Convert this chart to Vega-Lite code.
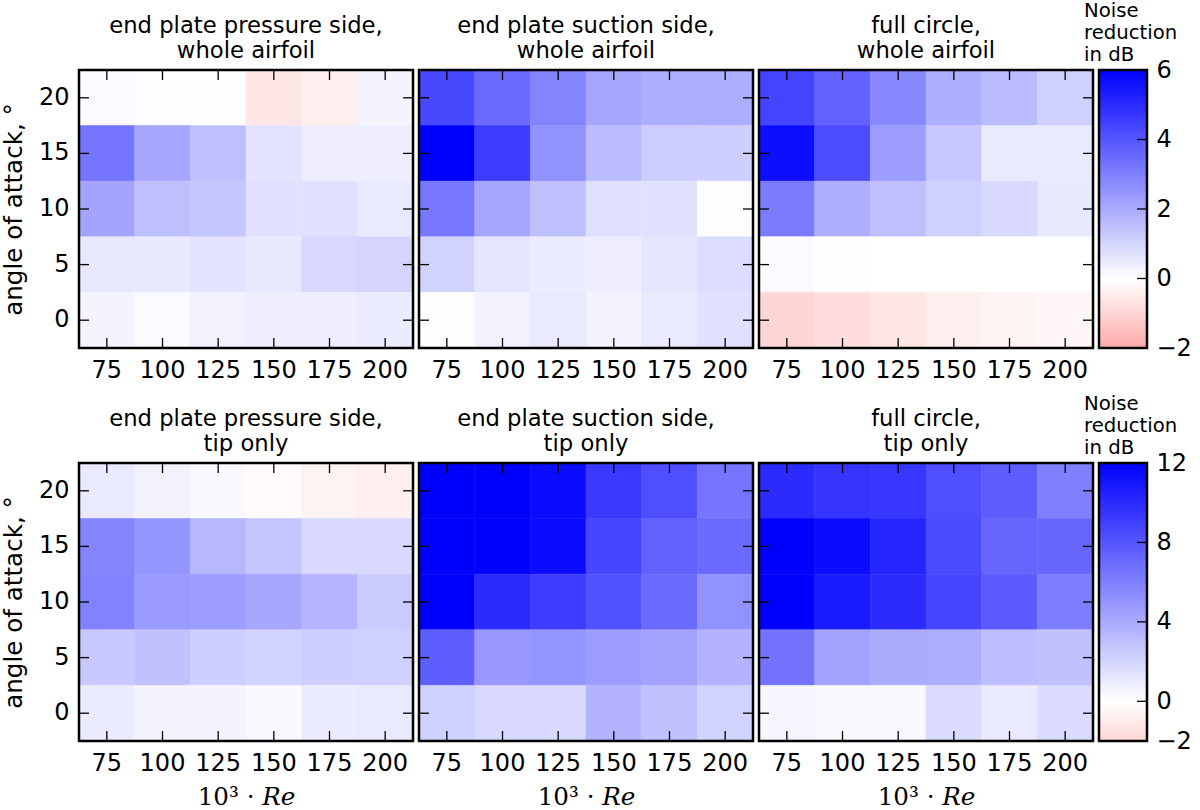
{
  "$schema": "https://vega.github.io/schema/vega-lite/v6.json",
  "background": "white",
  "padding": {"left": 1, "top": 1, "right": 0, "bottom": 0},
  "columns": 4,
  "bounds": "flush",
  "align": "each",
  "spacing": {"row": 115, "column": 6},
  "resolve": {"scale": {"fill": "independent", "stroke": "independent"}},
  "config": {
    "font": "DejaVu Sans",
    "view": {"stroke": null},
    "title": {"font": "DejaVu Sans", "fontSize": 22.7, "fontWeight": "normal", "lineHeight": 25, "offset": 6, "color": "#000"},
    "axis": {
      "grid": false,
      "domain": false,
      "ticks": false,
      "labelFont": "DejaVu Sans",
      "labelFontSize": 24,
      "labelColor": "#000",
      "labelPadding": 10,
      "labelAngle": 0,
      "labelOverlap": false,
      "labelFlush": false,
      "titleFont": "DejaVu Sans",
      "titleFontSize": 24.6,
      "titleFontWeight": "normal",
      "titleColor": "#000"
    }
  },
  "datasets": {
    "frame": [{"id": 1}],
    "xticks": [
      {"re":75,"edge":-2.5},{"re":100,"edge":-2.5},{"re":125,"edge":-2.5},{"re":150,"edge":-2.5},{"re":175,"edge":-2.5},{"re":200,"edge":-2.5},
      {"re":75,"edge":22.5},{"re":100,"edge":22.5},{"re":125,"edge":22.5},{"re":150,"edge":22.5},{"re":175,"edge":22.5},{"re":200,"edge":22.5}
    ],
    "yticks": [
      {"aoa":20,"edge":62.5},{"aoa":15,"edge":62.5},{"aoa":10,"edge":62.5},{"aoa":5,"edge":62.5},{"aoa":0,"edge":62.5},
      {"aoa":20,"edge":212.5},{"aoa":15,"edge":212.5},{"aoa":10,"edge":212.5},{"aoa":5,"edge":212.5},{"aoa":0,"edge":212.5}
    ],
    "cells": [
      {"panel":"a","aoa":20,"re":75,"v":0.1},{"panel":"a","aoa":20,"re":100,"v":0.05},{"panel":"a","aoa":20,"re":125,"v":0.05},{"panel":"a","aoa":20,"re":150,"v":-0.6},{"panel":"a","aoa":20,"re":175,"v":-0.35},{"panel":"a","aoa":20,"re":200,"v":0.25},
      {"panel":"a","aoa":15,"re":75,"v":3.25},{"panel":"a","aoa":15,"re":100,"v":2.1},{"panel":"a","aoa":15,"re":125,"v":1.5},{"panel":"a","aoa":15,"re":150,"v":0.65},{"panel":"a","aoa":15,"re":175,"v":0.4},{"panel":"a","aoa":15,"re":200,"v":0.4},
      {"panel":"a","aoa":10,"re":75,"v":2.15},{"panel":"a","aoa":10,"re":100,"v":1.5},{"panel":"a","aoa":10,"re":125,"v":1.35},{"panel":"a","aoa":10,"re":150,"v":0.7},{"panel":"a","aoa":10,"re":175,"v":0.7},{"panel":"a","aoa":10,"re":200,"v":0.5},
      {"panel":"a","aoa":5,"re":75,"v":0.55},{"panel":"a","aoa":5,"re":100,"v":0.55},{"panel":"a","aoa":5,"re":125,"v":0.65},{"panel":"a","aoa":5,"re":150,"v":0.55},{"panel":"a","aoa":5,"re":175,"v":0.95},{"panel":"a","aoa":5,"re":200,"v":1.0},
      {"panel":"a","aoa":0,"re":75,"v":0.25},{"panel":"a","aoa":0,"re":100,"v":0.12},{"panel":"a","aoa":0,"re":125,"v":0.3},{"panel":"a","aoa":0,"re":150,"v":0.4},{"panel":"a","aoa":0,"re":175,"v":0.4},{"panel":"a","aoa":0,"re":200,"v":0.45},

      {"panel":"b","aoa":20,"re":75,"v":4.3},{"panel":"b","aoa":20,"re":100,"v":3.5},{"panel":"b","aoa":20,"re":125,"v":2.9},{"panel":"b","aoa":20,"re":150,"v":2.1},{"panel":"b","aoa":20,"re":175,"v":1.9},{"panel":"b","aoa":20,"re":200,"v":1.9},
      {"panel":"b","aoa":15,"re":75,"v":6},{"panel":"b","aoa":15,"re":100,"v":4.6},{"panel":"b","aoa":15,"re":125,"v":2.6},{"panel":"b","aoa":15,"re":150,"v":1.6},{"panel":"b","aoa":15,"re":175,"v":1.2},{"panel":"b","aoa":15,"re":200,"v":1.15},
      {"panel":"b","aoa":10,"re":75,"v":3.2},{"panel":"b","aoa":10,"re":100,"v":2.1},{"panel":"b","aoa":10,"re":125,"v":1.5},{"panel":"b","aoa":10,"re":150,"v":0.75},{"panel":"b","aoa":10,"re":175,"v":0.7},{"panel":"b","aoa":10,"re":200,"v":0.05},
      {"panel":"b","aoa":5,"re":75,"v":1.05},{"panel":"b","aoa":5,"re":100,"v":0.6},{"panel":"b","aoa":5,"re":125,"v":0.45},{"panel":"b","aoa":5,"re":150,"v":0.4},{"panel":"b","aoa":5,"re":175,"v":0.6},{"panel":"b","aoa":5,"re":200,"v":0.8},
      {"panel":"b","aoa":0,"re":75,"v":0.05},{"panel":"b","aoa":0,"re":100,"v":0.3},{"panel":"b","aoa":0,"re":125,"v":0.5},{"panel":"b","aoa":0,"re":150,"v":0.25},{"panel":"b","aoa":0,"re":175,"v":0.5},{"panel":"b","aoa":0,"re":200,"v":0.7},

      {"panel":"c","aoa":20,"re":75,"v":4.4},{"panel":"c","aoa":20,"re":100,"v":3.7},{"panel":"c","aoa":20,"re":125,"v":2.8},{"panel":"c","aoa":20,"re":150,"v":1.9},{"panel":"c","aoa":20,"re":175,"v":1.6},{"panel":"c","aoa":20,"re":200,"v":1.1},
      {"panel":"c","aoa":15,"re":75,"v":5.7},{"panel":"c","aoa":15,"re":100,"v":4.2},{"panel":"c","aoa":15,"re":125,"v":2.3},{"panel":"c","aoa":15,"re":150,"v":1.3},{"panel":"c","aoa":15,"re":175,"v":0.5},{"panel":"c","aoa":15,"re":200,"v":0.5},
      {"panel":"c","aoa":10,"re":75,"v":3.1},{"panel":"c","aoa":10,"re":100,"v":1.9},{"panel":"c","aoa":10,"re":125,"v":1.5},{"panel":"c","aoa":10,"re":150,"v":1.1},{"panel":"c","aoa":10,"re":175,"v":0.9},{"panel":"c","aoa":10,"re":200,"v":0.55},
      {"panel":"c","aoa":5,"re":75,"v":0.1},{"panel":"c","aoa":5,"re":100,"v":0.02},{"panel":"c","aoa":5,"re":125,"v":0},{"panel":"c","aoa":5,"re":150,"v":0},{"panel":"c","aoa":5,"re":175,"v":0},{"panel":"c","aoa":5,"re":200,"v":0},
      {"panel":"c","aoa":0,"re":75,"v":-1.0},{"panel":"c","aoa":0,"re":100,"v":-0.8},{"panel":"c","aoa":0,"re":125,"v":-0.6},{"panel":"c","aoa":0,"re":150,"v":-0.35},{"panel":"c","aoa":0,"re":175,"v":-0.25},{"panel":"c","aoa":0,"re":200,"v":-0.2},

      {"panel":"d","aoa":20,"re":75,"v":1.0},{"panel":"d","aoa":20,"re":100,"v":0.6},{"panel":"d","aoa":20,"re":125,"v":0.3},{"panel":"d","aoa":20,"re":150,"v":-0.2},{"panel":"d","aoa":20,"re":175,"v":-0.6},{"panel":"d","aoa":20,"re":200,"v":-0.7},
      {"panel":"d","aoa":15,"re":75,"v":5.8},{"panel":"d","aoa":15,"re":100,"v":5},{"panel":"d","aoa":15,"re":125,"v":3.4},{"panel":"d","aoa":15,"re":150,"v":2.7},{"panel":"d","aoa":15,"re":175,"v":1.8},{"panel":"d","aoa":15,"re":200,"v":1.8},
      {"panel":"d","aoa":10,"re":75,"v":5.9},{"panel":"d","aoa":10,"re":100,"v":4.7},{"panel":"d","aoa":10,"re":125,"v":4.6},{"panel":"d","aoa":10,"re":150,"v":4.2},{"panel":"d","aoa":10,"re":175,"v":3.5},{"panel":"d","aoa":10,"re":200,"v":2.5},
      {"panel":"d","aoa":5,"re":75,"v":2.6},{"panel":"d","aoa":5,"re":100,"v":2.9},{"panel":"d","aoa":5,"re":125,"v":2.3},{"panel":"d","aoa":5,"re":150,"v":2.1},{"panel":"d","aoa":5,"re":175,"v":2.3},{"panel":"d","aoa":5,"re":200,"v":2.2},
      {"panel":"d","aoa":0,"re":75,"v":0.9},{"panel":"d","aoa":0,"re":100,"v":0.5},{"panel":"d","aoa":0,"re":125,"v":0.5},{"panel":"d","aoa":0,"re":150,"v":0.3},{"panel":"d","aoa":0,"re":175,"v":0.9},{"panel":"d","aoa":0,"re":200,"v":1.0},

      {"panel":"e","aoa":20,"re":75,"v":12},{"panel":"e","aoa":20,"re":100,"v":12},{"panel":"e","aoa":20,"re":125,"v":11.5},{"panel":"e","aoa":20,"re":150,"v":9.3},{"panel":"e","aoa":20,"re":175,"v":8.3},{"panel":"e","aoa":20,"re":200,"v":6.5},
      {"panel":"e","aoa":15,"re":75,"v":12},{"panel":"e","aoa":15,"re":100,"v":12},{"panel":"e","aoa":15,"re":125,"v":11.5},{"panel":"e","aoa":15,"re":150,"v":8.7},{"panel":"e","aoa":15,"re":175,"v":7.4},{"panel":"e","aoa":15,"re":200,"v":7.0},
      {"panel":"e","aoa":10,"re":75,"v":12},{"panel":"e","aoa":10,"re":100,"v":10},{"panel":"e","aoa":10,"re":125,"v":9.2},{"panel":"e","aoa":10,"re":150,"v":8.2},{"panel":"e","aoa":10,"re":175,"v":7},{"panel":"e","aoa":10,"re":200,"v":5.2},
      {"panel":"e","aoa":5,"re":75,"v":7.6},{"panel":"e","aoa":5,"re":100,"v":4.9},{"panel":"e","aoa":5,"re":125,"v":5},{"panel":"e","aoa":5,"re":150,"v":4.6},{"panel":"e","aoa":5,"re":175,"v":4.3},{"panel":"e","aoa":5,"re":200,"v":3.6},
      {"panel":"e","aoa":0,"re":75,"v":2.2},{"panel":"e","aoa":0,"re":100,"v":1.8},{"panel":"e","aoa":0,"re":125,"v":1.8},{"panel":"e","aoa":0,"re":150,"v":3.6},{"panel":"e","aoa":0,"re":175,"v":2.9},{"panel":"e","aoa":0,"re":200,"v":2.1},

      {"panel":"f","aoa":20,"re":75,"v":10},{"panel":"f","aoa":20,"re":100,"v":9.5},{"panel":"f","aoa":20,"re":125,"v":9.4},{"panel":"f","aoa":20,"re":150,"v":8.3},{"panel":"f","aoa":20,"re":175,"v":7.6},{"panel":"f","aoa":20,"re":200,"v":6},
      {"panel":"f","aoa":15,"re":75,"v":12},{"panel":"f","aoa":15,"re":100,"v":11.5},{"panel":"f","aoa":15,"re":125,"v":10.3},{"panel":"f","aoa":15,"re":150,"v":8.5},{"panel":"f","aoa":15,"re":175,"v":7.2},{"panel":"f","aoa":15,"re":200,"v":7.2},
      {"panel":"f","aoa":10,"re":75,"v":12},{"panel":"f","aoa":10,"re":100,"v":10.8},{"panel":"f","aoa":10,"re":125,"v":10},{"panel":"f","aoa":10,"re":150,"v":8.7},{"panel":"f","aoa":10,"re":175,"v":7.7},{"panel":"f","aoa":10,"re":200,"v":6.1},
      {"panel":"f","aoa":5,"re":75,"v":6.6},{"panel":"f","aoa":5,"re":100,"v":4.4},{"panel":"f","aoa":5,"re":125,"v":3.9},{"panel":"f","aoa":5,"re":150,"v":3.8},{"panel":"f","aoa":5,"re":175,"v":3.1},{"panel":"f","aoa":5,"re":200,"v":2.9},
      {"panel":"f","aoa":0,"re":75,"v":0.4},{"panel":"f","aoa":0,"re":100,"v":0.3},{"panel":"f","aoa":0,"re":125,"v":0.3},{"panel":"f","aoa":0,"re":150,"v":1.7},{"panel":"f","aoa":0,"re":175,"v":1},{"panel":"f","aoa":0,"re":200,"v":1.7}
    ],
    "bar6": [{"lo": -2, "hi": 6}],
    "bar12": [{"lo": -2, "hi": 12}],
    "bar6ticks": [{"level": 0, "edge": 1}, {"level": 2, "edge": 1}, {"level": 4, "edge": 1}],
    "bar12ticks": [{"level": 0, "edge": 1}, {"level": 4, "edge": 1}, {"level": 8, "edge": 1}]
  },
  "concat": [
    {
      "width": 334, "height": 278,
      "title": {"text": ["end plate pressure side, ", "whole airfoil"]},
      "resolve": {"scale": {"x": "independent", "y": "independent"}, "axis": {"x": "independent", "y": "independent"}},
      "layer": [
        {"data": {"name": "cells"}, "transform": [{"filter": "datum.panel == 'a'"}], "mark": {"type": "rect", "strokeWidth": 0.6}, "encoding": {
          "fill": {"field": "v", "type": "quantitative", "legend": null, "scale": {"domain": [-6, 0, 6], "range": ["#ff0000", "#ffffff", "#0000ff"], "interpolate": "rgb"}},
          "stroke": {"field": "v", "type": "quantitative", "legend": null, "scale": {"domain": [-6, 0, 6], "range": ["#ff0000", "#ffffff", "#0000ff"], "interpolate": "rgb"}},
          "x": {"field": "re", "type": "ordinal", "axis": {"title": null}},
          "y": {"field": "aoa", "type": "ordinal", "sort": "descending", "axis": {"title": "angle of attack, °", "titlePadding": 12}}
        }},
        {"data": {"name": "xticks"}, "mark": {"type": "tick", "orient": "vertical", "size": 20, "thickness": 1.3, "color": "#000", "opacity": 1, "clip": true}, "encoding": {
          "x": {"field": "re", "type": "ordinal", "scale": {"type": "band", "padding": 0}, "axis": null},
          "y": {"field": "edge", "type": "quantitative", "scale": {"domain": [-2.5, 22.5], "nice": false, "zero": false}, "axis": null}
        }},
        {"data": {"name": "yticks"}, "mark": {"type": "tick", "orient": "horizontal", "size": 20, "thickness": 1.3, "color": "#000", "opacity": 1, "clip": true}, "encoding": {
          "x": {"field": "edge", "type": "quantitative", "scale": {"domain": [62.5, 212.5], "nice": false, "zero": false}, "axis": null},
          "y": {"field": "aoa", "type": "ordinal", "sort": "descending", "scale": {"type": "band", "padding": 0}, "axis": null}
        }},
        {"data": {"name": "frame"}, "mark": {"type": "rect", "fillOpacity": 0, "stroke": "#000", "strokeWidth": 2.5}, "encoding": {}}
      ]
    },
    {
      "width": 334, "height": 278,
      "title": {"text": ["end plate suction side, ", "whole airfoil"]},
      "resolve": {"scale": {"x": "independent", "y": "independent"}, "axis": {"x": "independent", "y": "independent"}},
      "layer": [
        {"data": {"name": "cells"}, "transform": [{"filter": "datum.panel == 'b'"}], "mark": {"type": "rect", "strokeWidth": 0.6}, "encoding": {
          "fill": {"field": "v", "type": "quantitative", "legend": null, "scale": {"domain": [-6, 0, 6], "range": ["#ff0000", "#ffffff", "#0000ff"], "interpolate": "rgb"}},
          "stroke": {"field": "v", "type": "quantitative", "legend": null, "scale": {"domain": [-6, 0, 6], "range": ["#ff0000", "#ffffff", "#0000ff"], "interpolate": "rgb"}},
          "x": {"field": "re", "type": "ordinal", "axis": {"title": null}},
          "y": {"field": "aoa", "type": "ordinal", "sort": "descending", "axis": {"title": null, "labels": false}}
        }},
        {"data": {"name": "xticks"}, "mark": {"type": "tick", "orient": "vertical", "size": 20, "thickness": 1.3, "color": "#000", "opacity": 1, "clip": true}, "encoding": {
          "x": {"field": "re", "type": "ordinal", "scale": {"type": "band", "padding": 0}, "axis": null},
          "y": {"field": "edge", "type": "quantitative", "scale": {"domain": [-2.5, 22.5], "nice": false, "zero": false}, "axis": null}
        }},
        {"data": {"name": "yticks"}, "mark": {"type": "tick", "orient": "horizontal", "size": 20, "thickness": 1.3, "color": "#000", "opacity": 1, "clip": true}, "encoding": {
          "x": {"field": "edge", "type": "quantitative", "scale": {"domain": [62.5, 212.5], "nice": false, "zero": false}, "axis": null},
          "y": {"field": "aoa", "type": "ordinal", "sort": "descending", "scale": {"type": "band", "padding": 0}, "axis": null}
        }},
        {"data": {"name": "frame"}, "mark": {"type": "rect", "fillOpacity": 0, "stroke": "#000", "strokeWidth": 2.5}, "encoding": {}}
      ]
    },
    {
      "width": 334, "height": 278,
      "title": {"text": ["full circle, ", "whole airfoil"]},
      "resolve": {"scale": {"x": "independent", "y": "independent"}, "axis": {"x": "independent", "y": "independent"}},
      "layer": [
        {"data": {"name": "cells"}, "transform": [{"filter": "datum.panel == 'c'"}], "mark": {"type": "rect", "strokeWidth": 0.6}, "encoding": {
          "fill": {"field": "v", "type": "quantitative", "legend": null, "scale": {"domain": [-6, 0, 6], "range": ["#ff0000", "#ffffff", "#0000ff"], "interpolate": "rgb"}},
          "stroke": {"field": "v", "type": "quantitative", "legend": null, "scale": {"domain": [-6, 0, 6], "range": ["#ff0000", "#ffffff", "#0000ff"], "interpolate": "rgb"}},
          "x": {"field": "re", "type": "ordinal", "axis": {"title": null}},
          "y": {"field": "aoa", "type": "ordinal", "sort": "descending", "axis": {"title": null, "labels": false}}
        }},
        {"data": {"name": "xticks"}, "mark": {"type": "tick", "orient": "vertical", "size": 20, "thickness": 1.3, "color": "#000", "opacity": 1, "clip": true}, "encoding": {
          "x": {"field": "re", "type": "ordinal", "scale": {"type": "band", "padding": 0}, "axis": null},
          "y": {"field": "edge", "type": "quantitative", "scale": {"domain": [-2.5, 22.5], "nice": false, "zero": false}, "axis": null}
        }},
        {"data": {"name": "yticks"}, "mark": {"type": "tick", "orient": "horizontal", "size": 20, "thickness": 1.3, "color": "#000", "opacity": 1, "clip": true}, "encoding": {
          "x": {"field": "edge", "type": "quantitative", "scale": {"domain": [62.5, 212.5], "nice": false, "zero": false}, "axis": null},
          "y": {"field": "aoa", "type": "ordinal", "sort": "descending", "scale": {"type": "band", "padding": 0}, "axis": null}
        }},
        {"data": {"name": "frame"}, "mark": {"type": "rect", "fillOpacity": 0, "stroke": "#000", "strokeWidth": 2.5}, "encoding": {}}
      ]
    },
    {
      "width": 48, "height": 278,
      "title": {"text": ["Noise", "reduction", "in dB"], "anchor": "start", "frame": "group", "dx": -15, "fontSize": 19.7, "lineHeight": 22, "offset": -7},
      "resolve": {"scale": {"x": "independent"}},
      "layer": [
        {"data": {"name": "bar6"}, "mark": {"type": "rect", "stroke": "#000", "strokeWidth": 2.5, "fill": {"gradient": "linear", "x1": 0, "y1": 1, "x2": 0, "y2": 0, "stops": [{"offset": 0, "color": "#ffaaaa"}, {"offset": 0.25, "color": "#ffffff"}, {"offset": 1, "color": "#0000ff"}]}}, "encoding": {
          "y": {"field": "lo", "type": "quantitative", "scale": {"domain": [-2, 6], "nice": false}, "axis": {"orient": "right", "title": null, "values": [-2, 0, 2, 4, 6], "labelPadding": 9}},
          "y2": {"field": "hi"}
        }},
        {"data": {"name": "bar6ticks"}, "mark": {"type": "tick", "orient": "horizontal", "size": 20, "thickness": 1.3, "color": "#000", "opacity": 1, "clip": true}, "encoding": {
          "x": {"field": "edge", "type": "quantitative", "scale": {"domain": [0, 1], "nice": false}, "axis": null},
          "y": {"field": "level", "type": "quantitative", "scale": {"domain": [-2, 6], "nice": false}}
        }}
      ]
    },
    {
      "width": 334, "height": 278,
      "title": {"text": ["end plate pressure side, ", "tip only"]},
      "resolve": {"scale": {"x": "independent", "y": "independent"}, "axis": {"x": "independent", "y": "independent"}},
      "layer": [
        {"data": {"name": "cells"}, "transform": [{"filter": "datum.panel == 'd'"}], "mark": {"type": "rect", "strokeWidth": 0.6}, "encoding": {
          "fill": {"field": "v", "type": "quantitative", "legend": null, "scale": {"domain": [-12, 0, 12], "range": ["#ff0000", "#ffffff", "#0000ff"], "interpolate": "rgb"}},
          "stroke": {"field": "v", "type": "quantitative", "legend": null, "scale": {"domain": [-12, 0, 12], "range": ["#ff0000", "#ffffff", "#0000ff"], "interpolate": "rgb"}},
          "x": {"field": "re", "type": "ordinal", "axis": {"title": "10³ · 𝑅𝑒", "titleFont": "DejaVu Serif", "titlePadding": 10}},
          "y": {"field": "aoa", "type": "ordinal", "sort": "descending", "axis": {"title": "angle of attack, °", "titlePadding": 12}}
        }},
        {"data": {"name": "xticks"}, "mark": {"type": "tick", "orient": "vertical", "size": 20, "thickness": 1.3, "color": "#000", "opacity": 1, "clip": true}, "encoding": {
          "x": {"field": "re", "type": "ordinal", "scale": {"type": "band", "padding": 0}, "axis": null},
          "y": {"field": "edge", "type": "quantitative", "scale": {"domain": [-2.5, 22.5], "nice": false, "zero": false}, "axis": null}
        }},
        {"data": {"name": "yticks"}, "mark": {"type": "tick", "orient": "horizontal", "size": 20, "thickness": 1.3, "color": "#000", "opacity": 1, "clip": true}, "encoding": {
          "x": {"field": "edge", "type": "quantitative", "scale": {"domain": [62.5, 212.5], "nice": false, "zero": false}, "axis": null},
          "y": {"field": "aoa", "type": "ordinal", "sort": "descending", "scale": {"type": "band", "padding": 0}, "axis": null}
        }},
        {"data": {"name": "frame"}, "mark": {"type": "rect", "fillOpacity": 0, "stroke": "#000", "strokeWidth": 2.5}, "encoding": {}}
      ]
    },
    {
      "width": 334, "height": 278,
      "title": {"text": ["end plate suction side, ", "tip only"]},
      "resolve": {"scale": {"x": "independent", "y": "independent"}, "axis": {"x": "independent", "y": "independent"}},
      "layer": [
        {"data": {"name": "cells"}, "transform": [{"filter": "datum.panel == 'e'"}], "mark": {"type": "rect", "strokeWidth": 0.6}, "encoding": {
          "fill": {"field": "v", "type": "quantitative", "legend": null, "scale": {"domain": [-12, 0, 12], "range": ["#ff0000", "#ffffff", "#0000ff"], "interpolate": "rgb"}},
          "stroke": {"field": "v", "type": "quantitative", "legend": null, "scale": {"domain": [-12, 0, 12], "range": ["#ff0000", "#ffffff", "#0000ff"], "interpolate": "rgb"}},
          "x": {"field": "re", "type": "ordinal", "axis": {"title": "10³ · 𝑅𝑒", "titleFont": "DejaVu Serif", "titlePadding": 10}},
          "y": {"field": "aoa", "type": "ordinal", "sort": "descending", "axis": {"title": null, "labels": false}}
        }},
        {"data": {"name": "xticks"}, "mark": {"type": "tick", "orient": "vertical", "size": 20, "thickness": 1.3, "color": "#000", "opacity": 1, "clip": true}, "encoding": {
          "x": {"field": "re", "type": "ordinal", "scale": {"type": "band", "padding": 0}, "axis": null},
          "y": {"field": "edge", "type": "quantitative", "scale": {"domain": [-2.5, 22.5], "nice": false, "zero": false}, "axis": null}
        }},
        {"data": {"name": "yticks"}, "mark": {"type": "tick", "orient": "horizontal", "size": 20, "thickness": 1.3, "color": "#000", "opacity": 1, "clip": true}, "encoding": {
          "x": {"field": "edge", "type": "quantitative", "scale": {"domain": [62.5, 212.5], "nice": false, "zero": false}, "axis": null},
          "y": {"field": "aoa", "type": "ordinal", "sort": "descending", "scale": {"type": "band", "padding": 0}, "axis": null}
        }},
        {"data": {"name": "frame"}, "mark": {"type": "rect", "fillOpacity": 0, "stroke": "#000", "strokeWidth": 2.5}, "encoding": {}}
      ]
    },
    {
      "width": 334, "height": 278,
      "title": {"text": ["full circle, ", "tip only"]},
      "resolve": {"scale": {"x": "independent", "y": "independent"}, "axis": {"x": "independent", "y": "independent"}},
      "layer": [
        {"data": {"name": "cells"}, "transform": [{"filter": "datum.panel == 'f'"}], "mark": {"type": "rect", "strokeWidth": 0.6}, "encoding": {
          "fill": {"field": "v", "type": "quantitative", "legend": null, "scale": {"domain": [-12, 0, 12], "range": ["#ff0000", "#ffffff", "#0000ff"], "interpolate": "rgb"}},
          "stroke": {"field": "v", "type": "quantitative", "legend": null, "scale": {"domain": [-12, 0, 12], "range": ["#ff0000", "#ffffff", "#0000ff"], "interpolate": "rgb"}},
          "x": {"field": "re", "type": "ordinal", "axis": {"title": "10³ · 𝑅𝑒", "titleFont": "DejaVu Serif", "titlePadding": 10}},
          "y": {"field": "aoa", "type": "ordinal", "sort": "descending", "axis": {"title": null, "labels": false}}
        }},
        {"data": {"name": "xticks"}, "mark": {"type": "tick", "orient": "vertical", "size": 20, "thickness": 1.3, "color": "#000", "opacity": 1, "clip": true}, "encoding": {
          "x": {"field": "re", "type": "ordinal", "scale": {"type": "band", "padding": 0}, "axis": null},
          "y": {"field": "edge", "type": "quantitative", "scale": {"domain": [-2.5, 22.5], "nice": false, "zero": false}, "axis": null}
        }},
        {"data": {"name": "yticks"}, "mark": {"type": "tick", "orient": "horizontal", "size": 20, "thickness": 1.3, "color": "#000", "opacity": 1, "clip": true}, "encoding": {
          "x": {"field": "edge", "type": "quantitative", "scale": {"domain": [62.5, 212.5], "nice": false, "zero": false}, "axis": null},
          "y": {"field": "aoa", "type": "ordinal", "sort": "descending", "scale": {"type": "band", "padding": 0}, "axis": null}
        }},
        {"data": {"name": "frame"}, "mark": {"type": "rect", "fillOpacity": 0, "stroke": "#000", "strokeWidth": 2.5}, "encoding": {}}
      ]
    },
    {
      "width": 48, "height": 278,
      "title": {"text": ["Noise", "reduction", "in dB"], "anchor": "start", "frame": "group", "dx": -15, "fontSize": 19.7, "lineHeight": 22, "offset": -7},
      "resolve": {"scale": {"x": "independent"}},
      "layer": [
        {"data": {"name": "bar12"}, "mark": {"type": "rect", "stroke": "#000", "strokeWidth": 2.5, "fill": {"gradient": "linear", "x1": 0, "y1": 1, "x2": 0, "y2": 0, "stops": [{"offset": 0, "color": "#ffd5d5"}, {"offset": 0.143, "color": "#ffffff"}, {"offset": 1, "color": "#0000ff"}]}}, "encoding": {
          "y": {"field": "lo", "type": "quantitative", "scale": {"domain": [-2, 12], "nice": false}, "axis": {"orient": "right", "title": null, "values": [-2, 0, 4, 8, 12], "labelPadding": 9}},
          "y2": {"field": "hi"}
        }},
        {"data": {"name": "bar12ticks"}, "mark": {"type": "tick", "orient": "horizontal", "size": 20, "thickness": 1.3, "color": "#000", "opacity": 1, "clip": true}, "encoding": {
          "x": {"field": "edge", "type": "quantitative", "scale": {"domain": [0, 1], "nice": false}, "axis": null},
          "y": {"field": "level", "type": "quantitative", "scale": {"domain": [-2, 12], "nice": false}}
        }}
      ]
    }
  ]
}
